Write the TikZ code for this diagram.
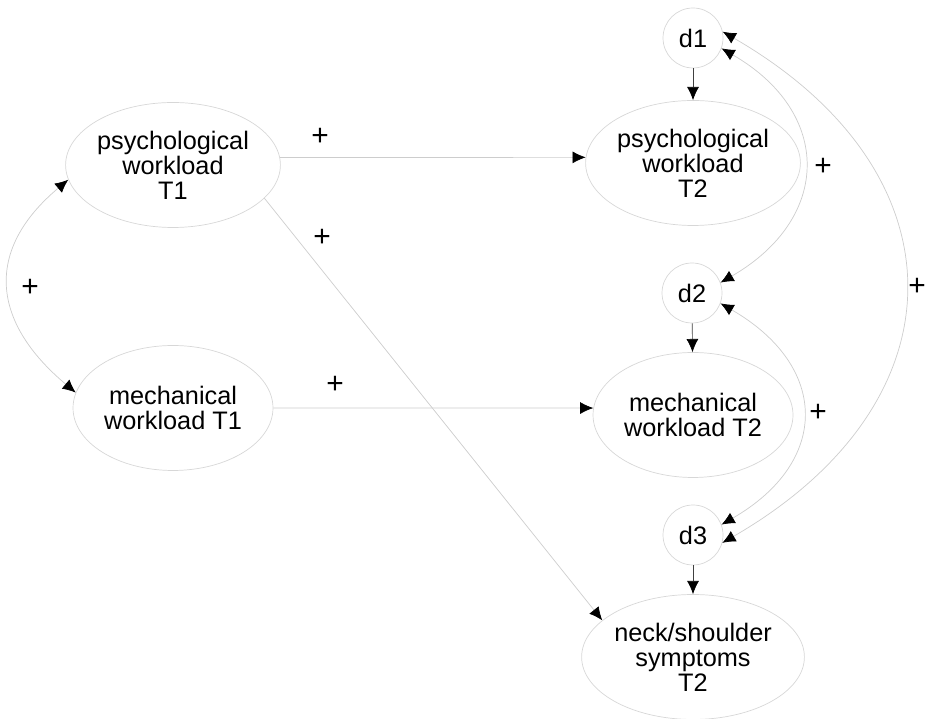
\documentclass[tikz,border=0pt]{standalone}
\usepackage{fontspec}
\setmainfont{Liberation Sans}
\usetikzlibrary{arrows.meta, shapes.geometric, positioning}
\definecolor{LineGrau}{RGB}{205,205,205}
\definecolor{RandGrau}{RGB}{215,215,215}

\tikzset{
    latent/.style={shape=ellipse, draw=RandGrau, minimum width=4cm, minimum height=2.5cm, inner sep=0pt, align=center, font=\fontsize{14.4}{14.2}\selectfont},
    resid/.style={shape=circle, draw=RandGrau, minimum size=1.2cm, inner sep=0pt, font=\fontsize{14.4}{14.2}\selectfont},
    regr/.style={draw=LineGrau, -{Latex[black, length=7.5pt, width=6.8pt]}},
    cov/.style={draw=LineGrau, {Latex[black, length=7.5pt, width=6.8pt]}-{Latex[black, length=7.5pt, width=6.8pt]}},
    err/.style={draw=black!75, -{Latex[black, length=7.5pt, width=6.8pt]}},
    sign/.style={font=\fontsize{17}{17}\selectfont}
}

\begin{document}
\begin{tikzpicture}[x=0.02cm, y=0.02cm]
    \useasboundingbox (0,0) rectangle (925,719);

    \node[latent] (psyA)  at (173,554) {psychological\\workload\\T1};
    \node[latent] (mechA) at (173,311) {mechanical\\workload T1};
    \node[latent] (psyB)  at (693,556) {psychological\\workload\\T2};
    \node[latent] (mechB) at (693,304) {mechanical\\workload T2};
    \node[latent] (neck)  at (693,62)  {neck/shoulder\\symptoms\\T2};
    \node[resid]  (d1)    at (693,681) {d1};
    \node[resid]  (d2)    at (692,426) {d2};
    \node[resid]  (d3)    at (693,184) {d3};

    \path (d1) edge[err] (psyB);
    \path (d2) edge[err] (mechB);
    \path (d3) edge[err] (neck);

    \path (psyA.4)     edge[regr] (psyB.177);
    \path (mechA.east) edge[regr] (mechB.176);
    \path (psyA.-20)   edge[regr] (neck.158);

    \path (psyA.188) edge[cov, out=220, in=140, looseness=1.32] (mechA.171);
    \path (d1.-20)   edge[cov, out=-30, in=30, looseness=1.4]   (d2.20);
    \path (d2.-20)   edge[cov, out=-30, in=30, looseness=1.45]  (d3.20);
    \path (d1.12)    edge[cov, out=-30, in=30, looseness=1.41]  (d3.-15);

    \node[sign] (pAB)  at (320,582) {+};
    \node[sign] (pAN)  at (322,481) {+};
    \node[sign] (mAB)  at (335,334) {+};
    \node[sign] (cA)   at (30,431)  {+};
    \node[sign] (c12)  at (823,552) {+};
    \node[sign] (c23)  at (818,306) {+};
    \node[sign] (c13)  at (917,432) {+};
\end{tikzpicture}
\end{document}
